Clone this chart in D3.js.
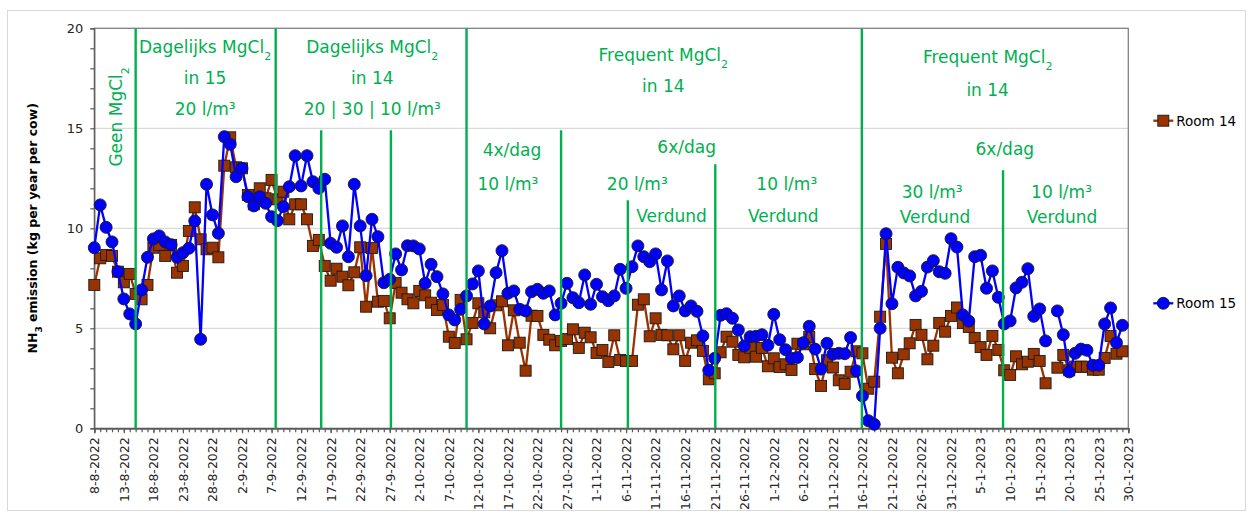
<!DOCTYPE html>
<html>
<head>
<meta charset="utf-8">
<script src="https://cdn.jsdelivr.net/npm/d3@7"></script>
<style>
  body { margin: 0; background: #fff; }
  svg { font-family: "DejaVu Sans", Verdana, sans-serif; }
</style>
</head>
<body>
<script>
// first measuring day, one value per day after it (null = no measurement)
const startDay = "8-8-2022";
const endDay = "30-1-2023";

const room14 = [
  7.17, 8.5, 8.67, 8.62, 7.83, 7.3, 7.72, 6.72, 6.45, 7.17,
  9.03, 9.17, 8.62, 9.17, 7.78, 8.12, 9.87, 11.05, 9.45, 8.95,
  9.03, 8.55, 13.13, 14.55, 13.05, 13.0, 11.67, 11.2, 12.0, 11.5,
  12.42, 11.45, 11.83, 10.45, 11.2, 11.2, 10.45, 9.12, 9.42, 8.12,
  7.38, 7.98, 7.58, 7.15, 7.8, 9.05, 6.08, 9.02, 6.33, 6.37,
  5.5, 7.27, 6.78, 6.45, 6.25, 6.87, 6.65, 6.28, 5.92, 6.17,
  4.58, 4.27, 6.42, 4.45, 5.27, 6.25, 5.8, 5.0, 6.15, 6.35,
  4.15, 5.9, 4.28, 2.88, 5.63, 5.62, 4.67, 4.43, 4.15, 4.37,
  4.46, 4.95, 4.02, 4.78, 4.55, 3.77, 3.92, 3.32, 4.65, 3.42,
  3.36, 3.37, 6.18, 6.45, 4.6, 5.5, 4.67, 4.65, 3.95, 4.65,
  3.37, 4.28, 4.4, 3.87, 2.45, 2.75, 3.8, 4.58, 4.33, 3.67,
  3.55, 4.03, 3.58, 4.02, 3.1, 3.5, 3.06, 3.2, 2.92, 4.23,
  4.2, 4.57, 2.96, 2.12, 3.4, 3.04, 2.4, 2.22, 2.83, 3.85,
  3.75, 1.98, 2.33, 5.58, 9.22, 3.53, 2.75, 3.7, 4.25, 5.17,
  4.67, 3.45, 4.13, 5.27, 4.83, 5.62, 6.04, 5.26, 5.07, 4.52,
  4.06, 3.67, 4.62, 3.92, 2.9, 2.67, 3.6, 3.2, 3.33, 3.72,
  3.37, 2.25, null, 3.03, 3.67, 2.9, 3.08, 3.08, 3.08, 2.93,
  2.93, 3.52, 4.62, 3.73, 3.85
];

const room15 = [
  9.03, 11.17, 10.05, 9.32, 7.83, 6.47, 5.72, 5.22, 6.92, 8.55,
  9.47, 9.62, 9.32, 9.18, 8.55, 8.78, 9.0, 10.37, 4.45, 12.2,
  10.67, 9.75, 14.58, 14.2, 12.58, 13.0, 11.58, 11.12, 11.58, 11.25,
  10.58, 10.38, 11.08, 12.08, 13.63, 12.12, 13.63, 12.33, 12.0, 12.45,
  9.25, 9.05, 10.12, 8.58, 12.2, 10.12, 7.63, 10.45, 9.58, 7.28,
  7.45, 8.72, 7.92, 9.13, 9.12, 8.97, 7.25, 8.2, 7.58, 6.72,
  5.67, 5.42, 5.95, 6.62, 7.22, 7.87, 5.22, 6.12, 7.78, 8.88,
  6.75, 6.87, 5.95, 5.87, 6.83, 6.95, 6.75, 6.87, 5.67, 6.25,
  7.25, 6.53, 6.28, 7.67, 6.2, 7.2, 6.58, 6.38, 6.62, 7.95,
  7.0, 8.08, 9.12, 8.58, 8.33, 8.72, 6.92, 8.37, 6.12, 6.62,
  5.87, 6.12, 5.85, 4.62, 2.9, 3.5, 5.65, 5.73, 5.5, 4.92,
  4.12, 4.58, 4.6, 4.68, 4.15, 5.7, 4.43, 3.93, 3.5, 3.54,
  4.28, 5.1, 3.96, 2.96, 4.25, 3.7, 3.75, 3.73, 4.54, 2.87,
  1.62, 0.38, 0.2, 5.0, 9.73, 6.23, 8.05, 7.77, 7.62, 6.62,
  6.85, 8.06, 8.38, 7.83, 7.75, 9.48, 9.06, 5.67, 5.36, 8.58,
  8.65, 7.0, 7.87, 6.55, 5.22, 5.37, 7.02, 7.3, 7.98, 5.6,
  5.97, 4.37, null, 5.87, 4.68, 2.82, 3.75, 3.96, 3.9, 3.15,
  3.15, 5.22, 6.02, 4.28, 5.15
];

const tickLabels = [
  "8-8-2022", "13-8-2022", "18-8-2022", "23-8-2022", "28-8-2022", "2-9-2022",
  "7-9-2022", "12-9-2022", "17-9-2022", "22-9-2022", "27-9-2022", "2-10-2022",
  "7-10-2022", "12-10-2022", "17-10-2022", "22-10-2022", "27-10-2022", "1-11-2022",
  "6-11-2022", "11-11-2022", "16-11-2022", "21-11-2022", "26-11-2022", "1-12-2022",
  "6-12-2022", "11-12-2022", "16-12-2022", "21-12-2022", "26-12-2022", "31-12-2022",
  "5-1-2023", "10-1-2023", "15-1-2023", "20-1-2023", "25-1-2023", "30-1-2023"
];

// green separators: days after start, and how high they reach
const dividerDays = [7.0, 30.7, 38.4, 50.2, 63.0, 79.0, 90.3, 105.1, 129.9, 153.8];
const dividerTops = [20, 20, 14.9, 14.9, 20, 14.9, 11.4, 13.2, 20, 12.9];

// text in the chart: [day, value of baseline, text, subscript]
const notes = [
  [18.75, 18.78, "Dagelijks MgCl", "2"],
  [18.75, 17.2, "in 15"],
  [18.75, 15.65, "20 l/m³"],
  [47.05, 18.78, "Dagelijks MgCl", "2"],
  [47.05, 17.2, "in 14"],
  [47.05, 15.65, "20 | 30 | 10 l/m³"],
  [96.3, 18.37, "Frequent MgCl", "2"],
  [96.3, 16.83, "in 14"],
  [70.7, 13.63, "4x/dag"],
  [70.0, 11.92, "10 l/m³"],
  [100.25, 13.75, "6x/dag"],
  [91.9, 11.92, "20 l/m³"],
  [97.7, 10.33, "Verdund"],
  [117.2, 11.92, "10 l/m³"],
  [116.6, 10.33, "Verdund"],
  [151.2, 18.25, "Frequent MgCl", "2"],
  [151.2, 16.6, "in 14"],
  [154.1, 13.67, "6x/dag"],
  [141.8, 11.5, "30 l/m³"],
  [142.3, 10.25, "Verdund"],
  [163.7, 11.5, "10 l/m³"],
  [163.8, 10.25, "Verdund"]
];

const width = 1253, height = 516;
const margin = {top: 28.3, right: 124.7, bottom: 87.7, left: 94.3};
const green = "#00b050", brown = "#993300", blue = "#0000ff";

const parse = d3.utcParse("%d-%m-%Y");
const t0 = parse(startDay), t1 = parse(endDay);
const dayOf = n => new Date(+t0 + n * 864e5);

const svg = d3.select("body").append("svg")
  .attr("width", width)
  .attr("height", height);

// outer chart frame
svg.append("rect")
  .attr("x", 7.5).attr("y", 10.5)
  .attr("width", 1238).attr("height", 500)
  .attr("fill", "#fff").attr("stroke", "#d9d9d9");

const x = d3.scaleUtc()
  .domain([t0, t1])
  .range([margin.left, width - margin.right]);

const y = d3.scaleLinear()
  .domain([0, 20])
  .range([height - margin.bottom, margin.top]);

// gridlines
svg.append("g")
  .selectAll("line")
  .data([5, 10, 15])
  .join("line")
  .attr("x1", x.range()[0]).attr("x2", x.range()[1])
  .attr("y1", d => y(d)).attr("y2", d => y(d))
  .attr("stroke", "#d9d9d9").attr("stroke-width", 1.3);

// plot border
svg.append("rect")
  .attr("x", x.range()[0]).attr("y", y(20))
  .attr("width", x.range()[1] - x.range()[0])
  .attr("height", y(0) - y(20))
  .attr("fill", "none").attr("stroke", "#808080").attr("stroke-width", 1.3);

// axes
const dayTicks = d3.utcDay.range(t0, d3.utcDay.offset(t1, 1));
svg.append("g")
  .attr("transform", `translate(0,${y(0)})`)
  .call(d3.axisBottom(x).tickValues(dayTicks).tickSize(4).tickFormat(""))
  .call(g => g.selectAll("line, path").attr("stroke", "#595959").attr("stroke-width", 1.2));

const xAxis = svg.append("g")
  .attr("transform", `translate(0,${y(0)})`)
  .call(d3.axisBottom(x).tickValues(tickLabels.map(parse)).tickSize(5)
    .tickFormat(d3.utcFormat("%-d-%-m-%Y")));
xAxis.selectAll("line, path").attr("stroke", "#595959").attr("stroke-width", 1.2);
xAxis.selectAll("text")
  .attr("transform", "rotate(-90)")
  .attr("x", -9).attr("y", 0).attr("dy", "0.35em")
  .attr("text-anchor", "end")
  .attr("font-size", 12.5)
  .attr("font-family", "DejaVu Sans")
  .attr("fill", "#262626");

const yAxis = svg.append("g")
  .attr("transform", `translate(${x.range()[0]},0)`)
  .call(d3.axisLeft(y).tickValues(d3.range(0, 21)).tickSize(4)
    .tickFormat(d => d % 5 === 0 ? d : ""));
yAxis.selectAll("line, path").attr("stroke", "#595959").attr("stroke-width", 1.2);
yAxis.selectAll("text")
  .attr("x", -11)
  .attr("font-size", 13)
  .attr("font-family", "DejaVu Sans")
  .attr("fill", "#262626");

const yTitle = svg.append("text")
  .attr("transform", `translate(37,${(y(0) + y(20)) / 2}) rotate(-90)`)
  .attr("text-anchor", "middle")
  .attr("font-size", 12.5)
  .attr("font-weight", "bold")
  .attr("fill", "#000");
yTitle.append("tspan").text("NH");
yTitle.append("tspan").attr("baseline-shift", "sub").attr("font-size", 9).text("3");
yTitle.append("tspan").text(" emission (kg per year per cow)");

// series
const series = [
  {name: "Room 14", values: room14, color: brown, shape: "square", legendY: 120.7},
  {name: "Room 15", values: room15, color: blue, shape: "circle", legendY: 303.3}
];

const line = d3.line()
  .defined(d => d.v != null)
  .x(d => x(d.date))
  .y(d => y(d.v));

series.forEach(s => {
  const pts = s.values.map((v, i) => ({date: dayOf(i), v}));
  const g = svg.append("g");
  g.append("path")
    .datum(pts)
    .attr("d", line)
    .attr("fill", "none")
    .attr("stroke", s.color)
    .attr("stroke-width", 2.3);
  const kept = pts.filter(d => d.v != null);
  if (s.shape === "square") {
    g.selectAll("rect").data(kept).join("rect")
      .attr("x", d => x(d.date) - 5.5).attr("y", d => y(d.v) - 5.5)
      .attr("width", 11).attr("height", 11)
      .attr("fill", s.color).attr("stroke", "#1a1a1a").attr("stroke-width", 0.9);
  } else {
    g.selectAll("circle").data(kept).join("circle")
      .attr("cx", d => x(d.date)).attr("cy", d => y(d.v))
      .attr("r", 6)
      .attr("fill", s.color).attr("stroke", "#1a1a1a").attr("stroke-width", 0.9);
  }
});

// green separators
svg.append("g")
  .selectAll("line")
  .data(dividerDays.map((d, i) => ({day: d, top: dividerTops[i]})))
  .join("line")
  .attr("x1", d => x(dayOf(d.day))).attr("x2", d => x(dayOf(d.day)))
  .attr("y1", d => y(d.top)).attr("y2", y(0))
  .attr("stroke", green).attr("stroke-width", 2.4);

// annotations
const noteG = svg.append("g")
  .attr("fill", green)
  .attr("font-size", 17);
notes.forEach(n => {
  const t = noteG.append("text")
    .attr("x", x(dayOf(n[0])))
    .attr("y", y(n[1]))
    .attr("text-anchor", "middle");
  t.append("tspan").text(n[2]);
  if (n[3]) t.append("tspan").attr("baseline-shift", "sub").attr("font-size", 11).text(n[3]);
});

// rotated label in the first period
const geen = noteG.append("text")
  .attr("transform", `translate(${x(dayOf(3.7)) + 6},${y(15.57)}) rotate(-90)`)
  .attr("text-anchor", "middle");
geen.append("tspan").text("Geen MgCl");
geen.append("tspan").attr("baseline-shift", "sub").attr("font-size", 11).text("2");

// legend
const leg = svg.append("g");
series.forEach(s => {
  const cx = 1163.3, cy = s.legendY;
  leg.append("line")
    .attr("x1", cx - 10).attr("x2", cx + 10)
    .attr("y1", cy).attr("y2", cy)
    .attr("stroke", s.color).attr("stroke-width", 2.3);
  if (s.shape === "square") {
    leg.append("rect")
      .attr("x", cx - 5.5).attr("y", cy - 5.5).attr("width", 11).attr("height", 11)
      .attr("fill", s.color).attr("stroke", "#1a1a1a").attr("stroke-width", 0.9);
  } else {
    leg.append("circle")
      .attr("cx", cx).attr("cy", cy).attr("r", 6)
      .attr("fill", s.color).attr("stroke", "#1a1a1a").attr("stroke-width", 0.9);
  }
  leg.append("text")
    .attr("x", cx + 13).attr("y", cy).attr("dy", "0.36em")
    .attr("font-size", 13.5).attr("fill", "#000")
    .text(s.name);
});
</script>
</body>
</html>
